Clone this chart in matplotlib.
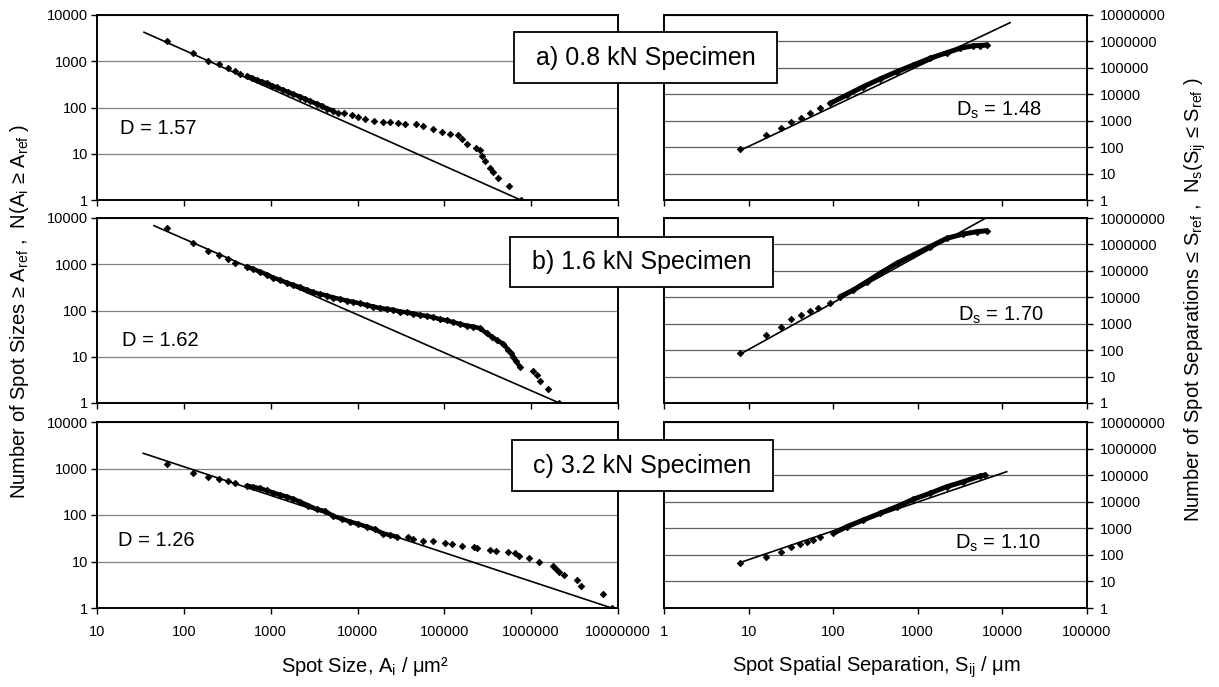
import matplotlib
matplotlib.use('Agg')
import matplotlib.pyplot as plt
from matplotlib.patches import Rectangle

plt.rcParams['font.family'] = ['Liberation Sans', 'DejaVu Sans']
plt.rcParams['mathtext.fontset'] = 'custom'
plt.rcParams['mathtext.rm'] = 'Liberation Sans'
plt.rcParams['mathtext.it'] = 'Liberation Sans:italic'

# ---------------- data ----------------
# spot-size cumulative distributions N(Ai >= Aref)
size_a_A = [64, 128, 192, 256, 320, 384, 448, 535, 610, 697, 795, 908, 1035, 1183, 1387, 1585, 1807,
            2178, 2483, 2838, 3420, 3899, 4456, 5224, 6012, 6998, 8577, 10210, 12210, 15600, 19500,
            23660, 29500, 35240, 47200, 57300, 74700, 94800, 116400, 145000, 158500, 181000, 231800,
            257700, 269700, 294400, 336000, 366700, 419000, 560000, 758000]
size_a_N = [2780, 1490, 1030, 860, 726, 625, 538, 480, 435, 393, 356, 334, 299, 271, 239, 216, 196,
            171, 153, 138, 119, 108, 95, 86, 76, 75, 69, 63, 57, 52, 49,
            48, 46, 43, 43, 40, 34, 30, 27, 25, 21, 16, 13,
            12, 9, 7, 5, 4, 3, 2, 1]

size_b_A = [64, 128, 192, 256, 320, 384, 530, 627, 753, 908, 1072, 1282, 1531, 1807, 2179, 2600, 3100,
            3700, 4416, 5260, 6290, 7510, 8960, 10690, 12760, 15220, 18160, 21680, 25840, 30900, 36900,
            43970, 52500, 62700, 74700, 89200, 106400, 126900, 151600, 181000, 216000, 257700, 307700,
            351300, 401000, 478000, 546000, 586000, 623000, 669000, 744000, 1042000, 1158000, 1265000,
            1552000, 2110000]
size_b_N = [5990, 2920, 1930, 1585, 1280, 1080, 885, 789, 690, 600, 512, 456, 399, 356, 318, 280, 248,
            227, 211, 191, 177, 164, 153, 142, 131, 122, 113, 108, 103, 95, 91,
            86, 80, 76, 71, 65, 61, 56, 51, 47, 45, 41, 32,
            27, 23, 19, 14, 12, 10, 8, 6, 5, 4, 3,
            2, 1]

size_c_A = [64, 128, 192, 256, 320, 384, 530, 631, 753, 900, 1072, 1282, 1531, 1824, 2179, 2716, 3388,
            4224, 5270, 6580, 8200, 10230, 12760, 15920, 19820, 23660, 28300, 38480, 43970, 56400, 73500,
            101800, 123600, 158500, 219700, 237900, 340000, 388400, 546000, 660000, 731000, 953000,
            1242000, 1771000, 1933000, 2065000, 2390000, 3375000, 3700000, 6670000, 8470000]
size_c_N = [1250, 812, 667, 586, 538, 495, 427, 400, 375, 337, 302, 273, 248, 221, 193, 160, 133,
            122, 95, 83, 72, 64, 56, 49, 40, 37, 34, 33, 30, 27, 27,
            25, 24, 22, 21, 20, 18, 17, 16, 15, 13, 12,
            10, 8, 7, 6, 5, 4, 3, 2, 1]

# fitted power-law lines (end points)
fit_a_A, fit_a_N = [34.8, 758000], [4227, 1]
fit_b_A, fit_b_N = [45.3, 2110000], [6820, 1]
fit_c_A, fit_c_N = [34.1, 8470000], [2123, 1]

# spot-separation cumulative distributions Ns(Sij <= Sref)
sep_a_S = [8, 16, 24, 32, 42, 53, 70, 92, 145, 227, 357, 563, 885, 1393, 2196, 3155, 4530, 5430, 6510]
sep_a_N = [83, 288, 516, 871, 1233, 1906, 2950, 4560, 9390, 19360, 37860, 71500, 128200, 229700,
           374000, 549000, 688000, 701000, 732000]
sep_b_S = [8, 16, 24, 32, 42, 53, 67, 92, 120, 173, 249, 357, 563, 885, 1393, 2196, 3450, 4970, 6510]
sep_b_N = [76, 374, 731, 1469, 2137, 3027, 3830, 6240, 10520, 18840, 38800, 80700, 193200, 398000,
           820000, 1702000, 2477000, 3027000, 3304000]
sep_c_S = [8, 16, 24, 32, 40, 49, 58, 70, 100, 145, 227, 357, 563, 885, 1393, 2196, 3450, 5430, 6220]
sep_c_N = [51, 85, 131, 203, 256, 313, 362, 458, 648, 1148, 2051, 3665, 6500, 12340, 20740, 36740,
           56700, 92900, 101400]

fit_sa_S, fit_sa_N = [8.5, 12300], [83, 5110000]
fit_sb_S, fit_sb_N = [8.3, 6810], [76, 11190000]
fit_sc_S, fit_sc_N = [7.9, 11250], [51, 134900]

D_labels = ['D = 1.57', 'D = 1.62', 'D = 1.26']
Ds_labels = [r'D$_{\mathregular{s}}$ = 1.48', r'D$_{\mathregular{s}}$ = 1.70', r'D$_{\mathregular{s}}$ = 1.10']
specimen_labels = ['a) 0.8 kN Specimen', 'b) 1.6 kN Specimen', 'c) 3.2 kN Specimen']

size_xticks = [10, 100, 1000, 10000, 100000, 1000000, 10000000]
size_yticks = [1, 10, 100, 1000, 10000]
sep_xticks = [1, 10, 100, 1000, 10000, 100000]
sep_yticks = [1, 10, 100, 1000, 10000, 100000, 1000000, 10000000]

# ---------------- layout ----------------
W, H = 1219, 687
fig = plt.figure(figsize=(W / 100, H / 100), dpi=100)


def rect(x0, y0, x1, y1):
    return [x0 / W, 1 - y1 / H, (x1 - x0) / W, (y1 - y0) / H]


rows = [(15, 200), (218, 403), (422, 608)]
size_sets = [(size_a_A, size_a_N, fit_a_A, fit_a_N, (7, 24)),
             (size_b_A, size_b_N, fit_b_A, fit_b_N, (6, 51)),
             (size_c_A, size_c_N, fit_c_A, fit_c_N, (6, 27))]
sep_sets = [(sep_a_S, sep_a_N, fit_sa_S, fit_sa_N, 7),
            (sep_b_S, sep_b_N, fit_sb_S, fit_sb_N, 8),
            (sep_c_S, sep_c_N, fit_sc_S, fit_sc_N, 8)]
D_pos = [(0.044, 0.384), (0.048, 0.34), (0.040, 0.362)]
Ds_pos = [(0.690, 0.486), (0.695, 0.476), (0.688, 0.349)]
boxes = [(514, 32, 777, 83), (510, 237, 773, 287), (512, 440, 773, 491)]

MS = 3.3

for i, (y0, y1) in enumerate(rows):
    # ---- left: spot sizes ----
    ax = fig.add_axes(rect(97, y0, 618, y1))
    A, N, fA, fN, (d0, d1) = size_sets[i]
    ax.set_xscale('log')
    ax.set_yscale('log')
    ax.set_xlim(10, 1e7)
    ax.set_ylim(1, 1e4)
    ax.yaxis.grid(True, color='#808080', lw=0.9)
    ax.set_axisbelow(True)
    ax.plot(fA, fN, color='black', lw=1.2, zorder=2)
    ax.plot(A[d0:d1], N[d0:d1], color='black', lw=3.2, solid_capstyle='round',
            solid_joinstyle='round', zorder=3)
    ax.plot(A, N, ls='none', marker='D', ms=MS, mew=0.6, color='black', zorder=3)
    ax.set_xticks(size_xticks)
    ax.set_yticks(size_yticks)
    ax.minorticks_off()
    ax.set_yticklabels([str(v) for v in size_yticks])
    if i == 2:
        ax.set_xticklabels([str(v) for v in size_xticks])
    else:
        ax.set_xticklabels([])
    ax.tick_params(axis='both', direction='out', length=4.5, width=1.0, labelsize=10.5, colors='black')
    ax.tick_params(axis='y', pad=2)
    ax.tick_params(axis='x', pad=8)
    for s in ax.spines.values():
        s.set_linewidth(1.4)
    ax.text(D_pos[i][0], D_pos[i][1], D_labels[i], transform=ax.transAxes,
            ha='left', va='center', fontsize=14.5)

    # ---- right: spot separations ----
    ax2 = fig.add_axes(rect(664, y0, 1087, y1))
    S, Ns, fS, fNs, k = sep_sets[i]
    ax2.set_xscale('log')
    ax2.set_yscale('log')
    ax2.set_xlim(1, 1e5)
    ax2.set_ylim(1, 1e7)
    ax2.yaxis.grid(True, color='#606060', lw=0.9)
    ax2.set_axisbelow(True)
    ax2.plot(fS, fNs, color='black', lw=1.2, zorder=2)
    ax2.plot(S[k:], Ns[k:], color='black', lw=3.6, solid_capstyle='round',
             solid_joinstyle='round', zorder=3)
    ax2.plot(S, Ns, ls='none', marker='D', ms=MS, mew=0.6, color='black', zorder=3)
    ax2.yaxis.tick_right()
    ax2.set_xticks(sep_xticks)
    ax2.set_yticks(sep_yticks)
    ax2.minorticks_off()
    ax2.set_yticklabels([str(v) for v in sep_yticks])
    if i == 2:
        ax2.set_xticklabels([str(v) for v in sep_xticks])
    else:
        ax2.set_xticklabels([])
    ax2.tick_params(axis='both', direction='out', length=4.5, width=1.0, labelsize=10.5, colors='black')
    ax2.tick_params(axis='y', pad=5)
    ax2.tick_params(axis='x', pad=8)
    for s in ax2.spines.values():
        s.set_linewidth(1.4)
    ax2.text(Ds_pos[i][0], Ds_pos[i][1], Ds_labels[i], transform=ax2.transAxes,
             ha='left', va='center', fontsize=14.5)

    # ---- specimen box ----
    bx0, by0, bx1, by1 = boxes[i]
    fig.add_artist(Rectangle((bx0 / W, 1 - by1 / H), (bx1 - bx0) / W, (by1 - by0) / H,
                             transform=fig.transFigure, facecolor='white', edgecolor='black',
                             lw=1.3, zorder=10))
    fig.text((bx0 + bx1) / 2 / W, 1 - (by0 + by1) / 2 / H, specimen_labels[i],
             ha='center', va='center', fontsize=18, zorder=11)

# axis titles
fig.text(20 / W, 1 - 311 / H,
         r'Number of Spot Sizes ≥ A$_{\mathregular{ref}}$ ,  N(A$_{\mathregular{i}}$ ≥ A$_{\mathregular{ref}}$ )',
         rotation=90, ha='center', va='center', fontsize=14.5)
fig.text(1195 / W, 1 - 300 / H,
         r'Number of Spot Separations ≤ S$_{\mathregular{ref}}$ ,  N$_{\mathregular{s}}$(S$_{\mathregular{ij}}$ ≤ S$_{\mathregular{ref}}$ )',
         rotation=90, ha='center', va='center', fontsize=14.5)
fig.text(365 / W, 1 - 667 / H, r'Spot Size, A$_{\mathregular{i}}$ / μm²',
         ha='center', va='center', fontsize=14.5)
fig.text(876 / W, 1 - 667 / H, r'Spot Spatial Separation, S$_{\mathregular{ij}}$ / μm',
         ha='center', va='center', fontsize=14.5)

fig.savefig('out.png', dpi=100)
